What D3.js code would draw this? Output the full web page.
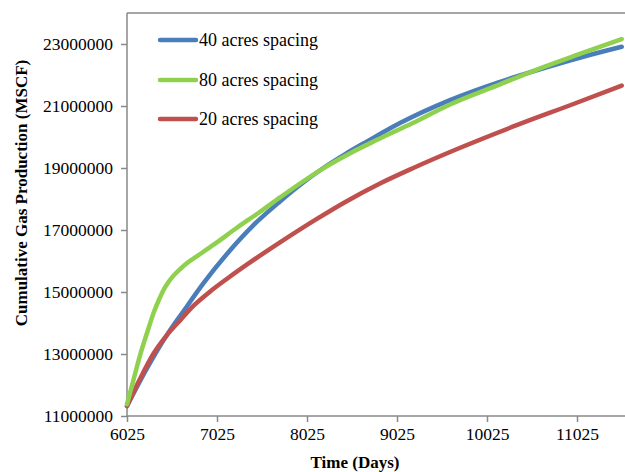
<!DOCTYPE html>
<html>
<head>
<meta charset="utf-8">
<script src="https://cdn.jsdelivr.net/npm/d3@7/dist/d3.min.js"></script>
<style>
  html, body { margin: 0; padding: 0; background: #fff; }
  svg { display: block; }
  text { font-family: "Liberation Serif", "Times New Roman", serif; fill: #000; }
</style>
</head>
<body>
<div id="chart"></div>
<script>
// Cumulative gas production (MSCF) vs. time (days) for three well spacings
const days40 = [6025, 6250, 6466, 6650, 6873, 7133, 7428, 7725, 7947, 8206, 8450, 8688, 9058, 9614, 10169, 10428, 11095, 11522];
const gas40  = [11.32, 12.55, 13.6, 14.37, 15.28, 16.22, 17.15, 17.92, 18.45, 19.0, 19.45, 19.85, 20.45, 21.19, 21.78, 22.02, 22.59, 22.91].map(v => v * 1e6);

const days80 = [6025, 6100, 6169, 6250, 6317, 6380, 6428, 6480, 6540, 6620, 6700, 6800, 7000, 7250, 7500, 7725, 7947, 8206, 8500, 8799, 9200, 9614, 10169, 10600, 11095, 11522];
const gas80  = [11.38, 12.2, 12.95, 13.7, 14.3, 14.75, 15.05, 15.3, 15.52, 15.75, 15.95, 16.15, 16.55, 17.08, 17.58, 18.05, 18.5, 18.99, 19.47, 19.9, 20.45, 21.05, 21.7, 22.2, 22.72, 23.16].map(v => v * 1e6);

const days20 = [6025, 6170, 6317, 6466, 6620, 6762, 6950, 7133, 7400, 7725, 8130, 8466, 8836, 9206, 9700, 10355, 11000, 11522];
const gas20  = [11.32, 12.2, 13.0, 13.6, 14.1, 14.55, 15.02, 15.42, 15.97, 16.6, 17.35, 17.93, 18.5, 19.0, 19.62, 20.38, 21.08, 21.66].map(v => v * 1e6);

const seriesNames = ["40 acres spacing", "80 acres spacing", "20 acres spacing"];
const seriesColors = ["#4A7EBB", "#8FD14F", "#C0504D"];

const xTicks = [6025, 7025, 8025, 9025, 10025, 11025];
const yTicks = [11000000, 13000000, 15000000, 17000000, 19000000, 21000000, 23000000];

const W = 625, H = 472;
const plot = { left: 127, right: 626.5, top: 13, bottom: 416 };

const svg = d3.select("#chart").append("svg").attr("width", W).attr("height", H);

const x = d3.scaleLinear().domain([6025, 11575]).range([plot.left, plot.right]);
const y = d3.scaleLinear().domain([11000000, 24000000]).range([plot.bottom, plot.top]);

const axisColor = "#898989";

// plot frame (top edge)
svg.append("line")
  .attr("x1", plot.left).attr("x2", W + 2)
  .attr("y1", plot.top).attr("y2", plot.top)
  .attr("stroke", axisColor).attr("stroke-width", 1.5);

// x axis
const gx = svg.append("g")
  .attr("transform", `translate(0,${plot.bottom})`)
  .call(d3.axisBottom(x).tickValues(xTicks).tickFormat(d3.format("d")).tickSizeOuter(0).tickSize(6).tickPadding(6));
gx.select(".domain").attr("stroke", axisColor).attr("stroke-width", 1.5)
  .attr("d", `M${plot.left},0H${W + 2}`);
gx.selectAll(".tick line").attr("stroke", axisColor).attr("stroke-width", 1.5);
gx.selectAll(".tick text")
  .attr("font-family", "'Liberation Serif', 'Times New Roman', serif")
  .attr("font-size", 17.5).attr("fill", "#000");

// y axis
const gy = svg.append("g")
  .attr("transform", `translate(${plot.left},0)`)
  .call(d3.axisLeft(y).tickValues(yTicks).tickFormat(d3.format("d")).tickSizeOuter(0).tickSize(6).tickPadding(8));
gy.select(".domain").attr("stroke", axisColor).attr("stroke-width", 1.5)
  .attr("d", `M0,${plot.top}V${plot.bottom}`);
gy.selectAll(".tick line").attr("stroke", axisColor).attr("stroke-width", 1.5);
gy.selectAll(".tick text")
  .attr("font-family", "'Liberation Serif', 'Times New Roman', serif")
  .attr("font-size", 17.5).attr("fill", "#000");

// axis titles
svg.append("text")
  .attr("x", 355).attr("y", 468)
  .attr("text-anchor", "middle")
  .attr("font-weight", "bold").attr("font-size", 17)
  .text("Time (Days)");

svg.append("text")
  .attr("transform", "translate(27,193) rotate(-90)")
  .attr("text-anchor", "middle")
  .attr("font-weight", "bold").attr("font-size", 17)
  .text("Cumulative Gas Production (MSCF)");

// series lines
const series = [
  { days: days40, gas: gas40 },
  { days: days80, gas: gas80 },
  { days: days20, gas: gas20 }
];
const line = d3.line()
  .x(d => x(d[0]))
  .y(d => y(d[1]))
  .curve(d3.curveMonotoneX);

// draw order: blue, red, green on top
[0, 2, 1].forEach(i => {
  const s = series[i];
  const pts = s.days.map((d, k) => [d, s.gas[k]]);
  svg.append("path")
    .datum(pts)
    .attr("d", line)
    .attr("fill", "none")
    .attr("stroke", seriesColors[i])
    .attr("stroke-width", 4.5)
    .attr("stroke-linecap", "round")
    .attr("stroke-linejoin", "round");
});

// legend
const legendY = [40, 80, 119];
seriesNames.forEach((name, i) => {
  const g = svg.append("g").attr("transform", `translate(0,${legendY[i]})`);
  g.append("line")
    .attr("x1", 160).attr("x2", 196)
    .attr("y1", 0).attr("y2", 0)
    .attr("stroke", seriesColors[i]).attr("stroke-width", 4.5)
    .attr("stroke-linecap", "round");
  g.append("text")
    .attr("x", 199).attr("y", 6)
    .attr("font-size", 18)
    .text(name);
});
</script>
</body>
</html>
